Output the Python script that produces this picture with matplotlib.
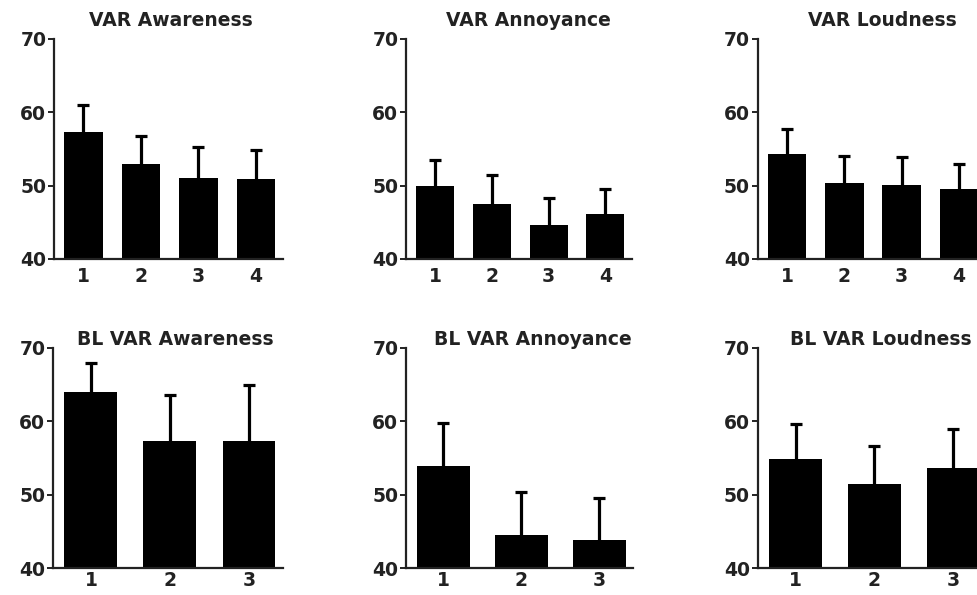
import numpy as np
import matplotlib
matplotlib.use('Agg')
from matplotlib import pyplot as plt

plt.rcParams['font.family'] = ['DejaVu Sans']
plt.rcParams['font.weight'] = 'bold'

# means and upper error (SEM)
titles = ['VAR Awareness', 'VAR Annoyance', 'VAR Loudness',
          'BL VAR Awareness', 'BL VAR Annoyance', 'BL VAR Loudness']
cats_top = ['1', '2', '3', '4']
cats_bot = ['1', '2', '3']

awareness_mean = [57.3, 52.9, 51.1, 50.9]
awareness_err = [3.7, 3.9, 4.2, 4.0]
annoyance_mean = [50.0, 47.5, 44.7, 46.1]
annoyance_err = [3.5, 3.9, 3.6, 3.5]
loudness_mean = [54.3, 50.4, 50.1, 49.5]
loudness_err = [3.4, 3.7, 3.8, 3.5]

bl_awareness_mean = [64.0, 57.3, 57.3]
bl_awareness_err = [3.9, 6.3, 7.6]
bl_annoyance_mean = [53.9, 44.5, 43.9]
bl_annoyance_err = [5.8, 5.9, 5.6]
bl_loudness_mean = [54.8, 51.5, 53.7]
bl_loudness_err = [4.8, 5.1, 5.3]

W, H = 977, 595
fig = plt.figure(figsize=(W / 100, H / 100), dpi=100)

# axes rects in pixels: left, top, right, bottom (third column runs off the edge)
rects = [(54, 39, 283, 259), (406, 39, 632, 259), (757.7, 39, 986, 259),
         (53, 347.7, 283, 568.3), (406, 347.7, 633, 568.3), (757.7, 347.7, 987, 568.3)]
title_pos = [(0.51, 1.086), (0.54, 1.086), (0.545, 1.086),
             (0.53, 1.035), (0.56, 1.035), (0.535, 1.035)]
data = [(cats_top, awareness_mean, awareness_err),
        (cats_top, annoyance_mean, annoyance_err),
        (cats_top, loudness_mean, loudness_err),
        (cats_bot, bl_awareness_mean, bl_awareness_err),
        (cats_bot, bl_annoyance_mean, bl_annoyance_err),
        (cats_bot, bl_loudness_mean, bl_loudness_err)]

for i, (cats, mean, err) in enumerate(data):
    l, t, r, b = rects[i]
    ax = fig.add_axes([l / W, 1 - b / H, (r - l) / W, (b - t) / H])
    x = np.arange(1, len(cats) + 1)
    ax.bar(x, mean, width=0.67, color='black', zorder=2)
    eb = ax.errorbar(x, mean, yerr=[np.zeros(len(err)), err], fmt='none',
                     ecolor='black', elinewidth=2.3, capsize=4.5, capthick=2.3,
                     zorder=1)
    # only the upper cap is wanted
    eb[1][0].set_visible(False)
    if len(cats) == 4:
        ax.set_xlim(0.49, 4.47)
        xpad = 6
    else:
        ax.set_xlim(0.52, 3.43)
        xpad = 2
    ax.set_ylim(40, 70)
    ax.set_yticks([40, 50, 60, 70])
    ax.set_xticks(x)
    ax.set_xticklabels(cats)
    for s in ['top', 'right']:
        ax.spines[s].set_visible(False)
    for s in ['left', 'bottom']:
        ax.spines[s].set_linewidth(1.6)
        ax.spines[s].set_color('#222222')
    ax.tick_params(axis='y', length=4.5, width=1.4, pad=1, labelsize=13.5,
                   colors='#222222')
    ax.tick_params(axis='x', length=0, pad=xpad, labelsize=13.5, colors='#222222')
    ax.set_facecolor('none')
    tx, ty = title_pos[i]
    ax.text(tx, ty, titles[i], transform=ax.transAxes, ha='center', va='center',
            fontsize=13.5, fontweight='bold', color='#222222')

fig.savefig('out.png', dpi=100, facecolor='white')
